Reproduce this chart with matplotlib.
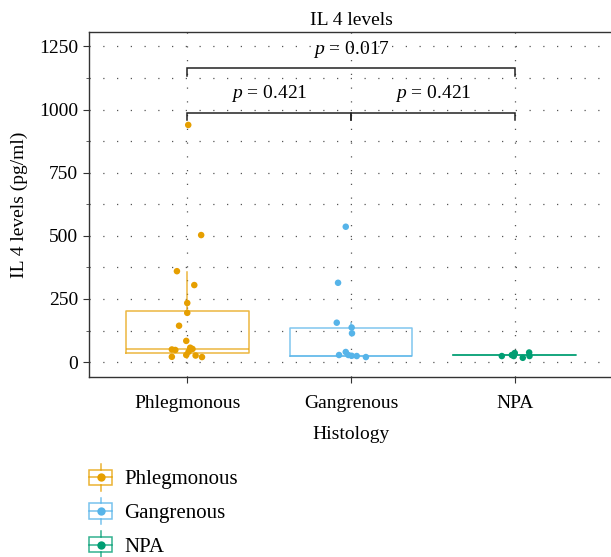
import matplotlib
matplotlib.use("Agg")
import matplotlib.pyplot as plt
from matplotlib.legend_handler import HandlerBase
from matplotlib.patches import Rectangle
from matplotlib.lines import Line2D
import numpy as np

plt.rcParams['font.family'] = ['Liberation Serif', 'DejaVu Serif']
plt.rcParams['mathtext.fontset'] = 'custom'
plt.rcParams['mathtext.it'] = 'Liberation Serif:italic'
plt.rcParams['mathtext.rm'] = 'Liberation Serif'

# ---------------- data ----------------
groups = ["Phlegmonous", "Gangrenous", "NPA"]
colors = ["#E69F00", "#56B4E9", "#009E73"]

phleg_vals = [939, 503, 360, 305, 234, 195, 144, 84, 50, 48, 57, 52, 41, 28, 26, 20, 21]
phleg_jit = [0.006, 0.085, -0.063, 0.043, 0.0, 0.0, -0.05, -0.006, -0.094, -0.073, 0.018, 0.032, 0.008, -0.006, 0.051, 0.090, -0.094]
gang_vals = [536, 314, 156, 137, 114, 40, 28, 28, 25, 24, 20]
gang_jit = [-0.032, -0.079, -0.087, 0.004, 0.006, -0.032, -0.073, -0.016, 0.004, 0.035, 0.091]
npa_vals = [24, 28, 36, 24, 17, 38, 24]
npa_jit = [-0.079, -0.018, 0.0, -0.006, 0.049, 0.088, 0.09]

# box statistics (low whisker, q1, median, q3, high whisker)
box_whislo = [15, 17, 27]
box_q1 = [37, 26, 27]
box_med = [50, 26, 27]
box_q3 = [203, 136, 27]
box_whishi = [358, 156, 27]

comparisons = [(1, 2, "0.421"), (2, 3, "0.421"), (1, 3, "0.017")]
bracket_y = [988, 988, 1163]

yticks = [0, 250, 500, 750, 1000, 1250]

FS = 14

# ---------------- figure ----------------
fig = plt.figure(figsize=(6.11, 5.57), dpi=100)
ax = fig.add_axes([89/611, 1-377/557, 524/611, 345/557])

stats = []
for i, g in enumerate(groups):
    stats.append(dict(label=g, whislo=box_whislo[i], q1=box_q1[i], med=box_med[i],
                      q3=box_q3[i], whishi=box_whishi[i], fliers=[]))

for i, s in enumerate(stats):
    c = colors[i]
    ax.bxp([s], positions=[i + 1], widths=0.75, showcaps=False, showfliers=False,
           boxprops=dict(color=c, lw=1.1, alpha=0.75),
           medianprops=dict(color=c, lw=1.1, alpha=0.75),
           whiskerprops=dict(color=c, lw=1.1, alpha=0.75),
           manage_ticks=False, zorder=2)

for i, (vals, jit) in enumerate([(phleg_vals, phleg_jit), (gang_vals, gang_jit), (npa_vals, npa_jit)]):
    xs = (i + 1) + np.array(jit)
    ax.scatter(xs, vals, s=22, color=colors[i], edgecolors='none', zorder=3)

# brackets
for (a, b, p), yb in zip(comparisons, bracket_y):
    drop = 30
    ax.plot([a, a, b, b], [yb - drop, yb, yb, yb - drop], color='#222222', lw=1.1,
            solid_joinstyle='miter', zorder=4)
    ax.text((a + b) / 2, yb + 75, r"$p$ = " + p, ha='center', va='center', fontsize=14, zorder=5)

ax.set_xlim(0.4, 3.6)
ax.set_ylim(-59, 1307)
ax.set_xticks([1, 2, 3])
ax.set_xticklabels(groups, fontsize=FS)
ax.set_yticks(yticks)
ax.set_yticklabels([str(t) for t in yticks], fontsize=FS)
ax.set_yticks([125, 375, 625, 875, 1125], minor=True)
ax.tick_params(axis='y', which='minor', length=2.5, width=0.6, color='#444444')
ax.tick_params(axis='y', which='major', length=4, width=0.8, color='#333333', pad=4)
ax.tick_params(axis='x', which='major', length=4, width=0.8, color='#333333', pad=9)

dot = (0, (1, 10))
for t in yticks + [125, 375, 625, 875, 1125]:
    ax.axhline(t, color='#555555', lw=0.9, ls=dot, zorder=0)
for xv in [1, 2, 3]:
    ax.axvline(xv, color='#555555', lw=0.9, ls=dot, zorder=0)

for sp in ax.spines.values():
    sp.set_color('#333333')
    sp.set_linewidth(1.0)

ax.set_xlabel("Histology", fontsize=FS, labelpad=10)
ax.set_ylabel("IL 4 levels (pg/ml)", fontsize=FS, labelpad=8)
ax.set_title("IL 4 levels", fontsize=FS, pad=5)


class BoxHandler(HandlerBase):
    def __init__(self, color):
        super().__init__()
        self.color = color

    def create_artists(self, legend, orig_handle, xdescent, ydescent, width, height, fontsize, trans):
        c = self.color
        cx = width / 2 - xdescent
        cy = height / 2 - ydescent
        bw, bh = 16.5, 11
        arts = []
        r = Rectangle((cx - bw / 2, cy - bh / 2), bw, bh, fill=False, edgecolor=c, lw=1.1, alpha=0.8, transform=trans)
        arts.append(r)
        arts.append(Line2D([cx - bw / 2, cx + bw / 2], [cy, cy], color=c, lw=1.1, alpha=0.8, transform=trans))
        arts.append(Line2D([cx, cx], [cy + bh / 2, cy + bh / 2 + 4], color=c, lw=1.1, alpha=0.8, transform=trans))
        arts.append(Line2D([cx, cx], [cy - bh / 2, cy - bh / 2 - 4], color=c, lw=1.1, alpha=0.8, transform=trans))
        arts.append(Line2D([cx], [cy], marker='o', ms=6, color=c, mec='none', ls='none', transform=trans))
        return arts


handles = [Rectangle((0, 0), 1, 1) for _ in groups]
leg = fig.legend(handles, groups, loc='upper left', bbox_to_anchor=(70/611, 1-448/557),
                 frameon=False, fontsize=15, handlelength=1.17, handleheight=1.2,
                 labelspacing=0.52, handletextpad=0.55,
                 handler_map={h: BoxHandler(c) for h, c in zip(handles, colors)})

fig.savefig("out.png", dpi=100)
